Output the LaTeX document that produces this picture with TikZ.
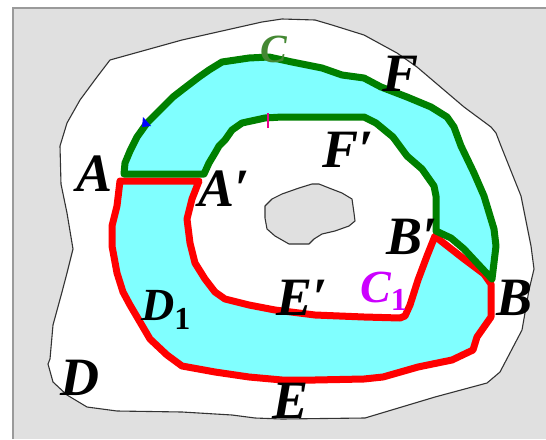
\documentclass[tikz,border=0pt]{standalone}
\usepackage{fontspec}
\setmainfont{Liberation Serif}
\definecolor{bggray}{HTML}{E0E0E0}
\definecolor{framegray}{HTML}{9A9A9A}
\definecolor{outl}{HTML}{333333}
\definecolor{ringcyan}{HTML}{80FFFF}
\definecolor{cgreen}{HTML}{008000}
\definecolor{cred}{HTML}{FF0000}
\definecolor{labgreen}{HTML}{448833}
\definecolor{labmag}{HTML}{CC00FF}
\newcommand{\subone}[1]{\raisebox{-#1}{\fontsize{32}{32}\selectfont\upshape\bfseries 1}}
\begin{document}
\begin{tikzpicture}[x=1pt,y=-1pt,
  lab/.style={inner sep=0pt, anchor=base west, font=\fontsize{54}{54}\selectfont\bfseries\itshape},
  sublab/.style={inner sep=0pt, anchor=base west, font=\fontsize{46}{46}\selectfont\bfseries\itshape},
  blob/.style={draw=outl, line width=1.1pt, line join=round},
  greenline/.style={draw=cgreen, line width=7pt, line join=round},
  redline/.style={draw=cred, line width=7pt, line join=round}]
\useasboundingbox (0,0) rectangle (546,439);
% frame
\fill[bggray] (13,8) rectangle (546,439);
\draw[framegray, line width=1.5pt] (13,439) -- (13,8) -- (546,8);
% outer region D
\filldraw[blob, fill=white] (110,60) -- (182,40) -- (262,22) -- (282,19) -- (315,20) -- (332,25) -- (364,35) -- (397,53) -- (417,67) -- (464,107) -- (491,127) -- (496,133) -- (501,146) -- (521,196) -- (531,246) -- (534,269) -- (529,290) -- (522,330) -- (500,372) -- (487,383) -- (435,397) -- (365,418) -- (282,419) -- (255,418) -- (232,415) -- (182,412) -- (117,411) -- (87,407) -- (67,395) -- (53,382) -- (48,364) -- (50,359) -- (53,325) -- (62,292) -- (67,273) -- (73,249) -- (67,213) -- (61,184) -- (60,146) -- (67,123) -- (80,100) -- (97,77) -- cycle;
% hole
\filldraw[blob, fill=bggray] (265,206) -- (272,199) -- (282,194) -- (299,188) -- (312,184) -- (319,184) -- (329,188) -- (342,193) -- (352,199) -- (354,213) -- (355,221) -- (349,226) -- (335,231) -- (322,234) -- (314,239) -- (309,244) -- (289,244) -- (275,236) -- (267,229) -- (265,218) -- cycle;
% lower band (red)
\filldraw[redline, fill=ringcyan] (120,181) -- (117,206) -- (112,226) -- (112,246) -- (117,273) -- (123,292) -- (130,305) -- (140,322) -- (150,339) -- (167,355) -- (182,366) -- (215,372) -- (249,377) -- (282,380) -- (315,380) -- (364,379) -- (383,377) -- (418,367) -- (452,360) -- (473,350) -- (477,337) -- (484,327) -- (491,317) -- (491,292) -- (491,284) -- (484,274) -- (464,259) -- (441,241) -- (435,236) -- (427,256) -- (418,280) -- (410,305) -- (405,316) -- (400,318) -- (364,317) -- (315,315) -- (275,310) -- (249,305) -- (225,299) -- (215,292) -- (205,279) -- (195,263) -- (190,243) -- (187,219) -- (192,199) -- (199,181) -- cycle;
% upper band (green)
\filldraw[greenline, fill=ringcyan] (124,174) -- (125,163) -- (130,151) -- (137,137) -- (147,123) -- (160,110) -- (173,97) -- (182,90) -- (199,77) -- (209,70) -- (222,62) -- (249,58) -- (269,57) -- (292,62) -- (322,68) -- (342,75) -- (364,78) -- (381,87) -- (407,97) -- (431,107) -- (447,117) -- (454,127) -- (461,146) -- (474,173) -- (484,196) -- (494,229) -- (496,246) -- (492,279) -- (477,263) -- (464,249) -- (451,238) -- (436,231) -- (436,196) -- (434,186) -- (422,169) -- (407,156) -- (393,137) -- (376,123) -- (364,117) -- (282,117) -- (265,118) -- (242,123) -- (232,130) -- (225,140) -- (219,146) -- (215,153) -- (209,163) -- (204,174) -- cycle;
% small orientation marks
\fill[blue] (143,117) -- (151,126) -- (142,127) -- cycle;
\draw[magenta, line width=1.5pt] (268,113) -- (268,128);
% labels
\node[lab] (lA) at (76,191) {A};
\node[lab] (lAp) at (198,206) {A′};
\node[lab] (lF) at (382,91) {F};
\node[lab] (lFp) at (322,167) {F′};
\node[inner sep=0pt, anchor=base west, font=\fontsize{40}{40}\selectfont\bfseries\itshape, text=labgreen] (lC) at (260,62) {C};
\node[lab] (lBp) at (386,254) {B′};
\node[lab] (lB) at (496,315) {B};
\node[sublab, text=labmag] (lC1) at (360,302) {C\subone{8pt}};
\node[lab] (lEp) at (276,315) {E′};
\node[sublab] (lD1) at (141,320) {D\subone{9pt}};
\node[lab] (lD) at (60,395) {D};
\node[lab] (lE) at (272,418) {E};
\end{tikzpicture}
\end{document}
